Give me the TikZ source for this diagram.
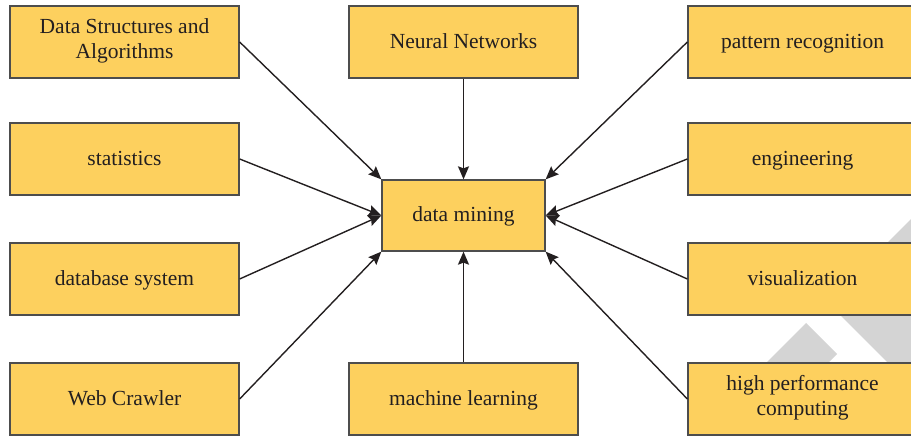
\documentclass[tikz,border=0pt]{standalone}
\usepackage{fontspec}
\setmainfont{Liberation Serif}
\usetikzlibrary{arrows.meta}
\definecolor{boxfill}{RGB}{253,208,94}
\definecolor{boxline}{RGB}{77,77,77}
\definecolor{ink}{RGB}{35,31,32}
\definecolor{wm}{RGB}{212,212,212}
\begin{document}
\begin{tikzpicture}[x=1pt,y=-1pt,
  box/.style={draw=boxline,line width=1.3pt,fill=boxfill,text=ink,minimum width=229pt,minimum height=72pt,align=center,inner sep=0pt,font=\fontsize{21.5}{25}\selectfont,execute at begin node=\rule{0pt}{20.5pt},execute at end node=\rule[-7.5pt]{0pt}{0pt}},
  arr/.style={draw=ink,line width=1.4pt,-{Stealth[length=13pt,width=11pt,inset=2pt]}}]
\useasboundingbox (0,0) rectangle (911,438);
\clip (0,0) rectangle (911,438);
% watermark
\fill[wm] (827.5,302.5) -- (1100,30) -- (1100,575) -- cycle;
\begin{scope}
\clip (600,300) rectangle (911,400);
\fill[wm] (806,323) -- (837,354) -- (737,454) -- (706,423) -- cycle;
\end{scope}
% boxes
\node[box] (ds) at (124.5,42) {Data Structures and\\Algorithms};
\node[box] (st) at (124.5,159) {statistics};
\node[box] (db) at (124.5,279) {database system};
\node[box] (wc) at (124.5,399) {Web Crawler};
\node[box] (nn) at (463.5,42) {Neural Networks};
\node[box] (ml) at (463.5,399) {machine learning};
\node[box] (pr) at (802.5,42) {pattern recognition};
\node[box] (en) at (802.5,159) {engineering};
\node[box] (vi) at (802.5,279) {visualization};
\node[box] (hp) at (802.5,399) {high performance\\computing};
\node[box,minimum width=163pt,minimum height=71pt] (dm) at (463.5,215.5) {data mining};
% arrows
\draw[arr] (ds.east) -- (dm.north west);
\draw[arr] (st.east) -- (dm.west);
\draw[arr] (db.east) -- (dm.west);
\draw[arr] (wc.east) -- (dm.south west);
\draw[arr] (nn.south) -- (dm.north);
\draw[arr] (ml.north) -- (dm.south);
\draw[arr] (pr.west) -- (dm.north east);
\draw[arr] (en.west) -- (dm.east);
\draw[arr] (vi.west) -- (dm.east);
\draw[arr] (hp.west) -- (dm.south east);
\end{tikzpicture}
\end{document}
